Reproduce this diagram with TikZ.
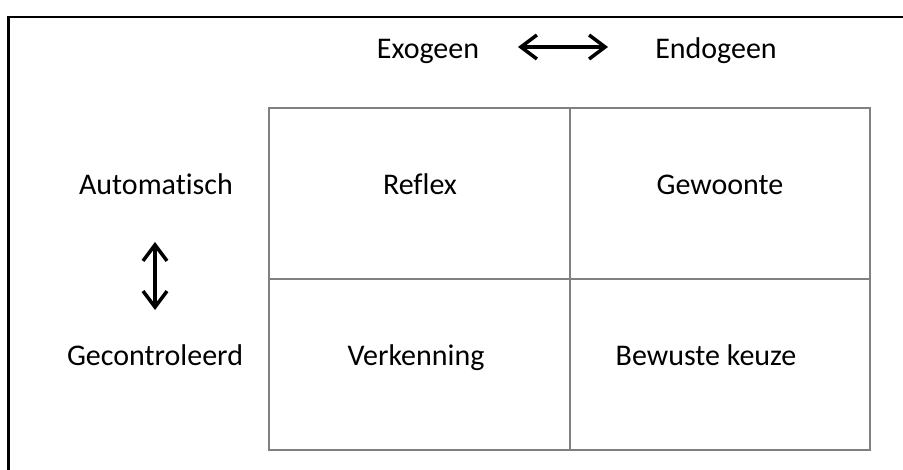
\documentclass[tikz,border=0pt]{standalone}
\usepackage{fontspec}
\setmainfont{Carlito}[Ligatures=NoCommon]
\usetikzlibrary{arrows.meta}
\begin{document}
\begin{tikzpicture}[x=1pt,y=-1pt,
  lbl/.style={font=\fontsize{30}{36}\selectfont, inner sep=0pt, anchor=base},
  grid/.style={draw=black!50, line width=1.6pt},
  barb/.tip={Straight Barb[length=16pt,width=24pt,line width=3.5pt]},
  dbl/.style={line width=3.5pt, barb-barb}]
  \useasboundingbox (0,0) rectangle (903,470);
  % outer frame (only top and left edges fall inside the page)
  \draw[line width=2.2pt] (8.5,480) -- (8.5,17) -- (910,17);
  % 2x2 grid
  \draw[grid] (269,108) rectangle (870,450);
  \draw[grid] (570,108) -- (570,450);
  \draw[grid] (269,279) -- (870,279);
  % axis labels
  \node[lbl] (exo) at (428,59) {Exogeen};
  \node[lbl] (endo) at (716,59) {Endogeen};
  \node[lbl] (auto) at (156,195) {Automatisch};
  \node[lbl] (gec) at (155,366) {Gecontroleerd};
  % cell labels
  \node[lbl] (reflex) at (420,195) {Reflex};
  \node[lbl] (gew) at (720,195) {Gewoonte};
  \node[lbl] (verk) at (416,366) {Verkenning};
  \node[lbl] (bew) at (706,366) {Bewuste keuze};
  % double-headed arrows
  \coordinate (hl) at (518,47);
  \coordinate (hr) at (608,47);
  \coordinate (vt) at (155,242);
  \coordinate (vb) at (155,310);
  \draw[dbl] (hl) -- (hr);
  \draw[dbl] (vt) -- (vb);
\end{tikzpicture}
\end{document}
